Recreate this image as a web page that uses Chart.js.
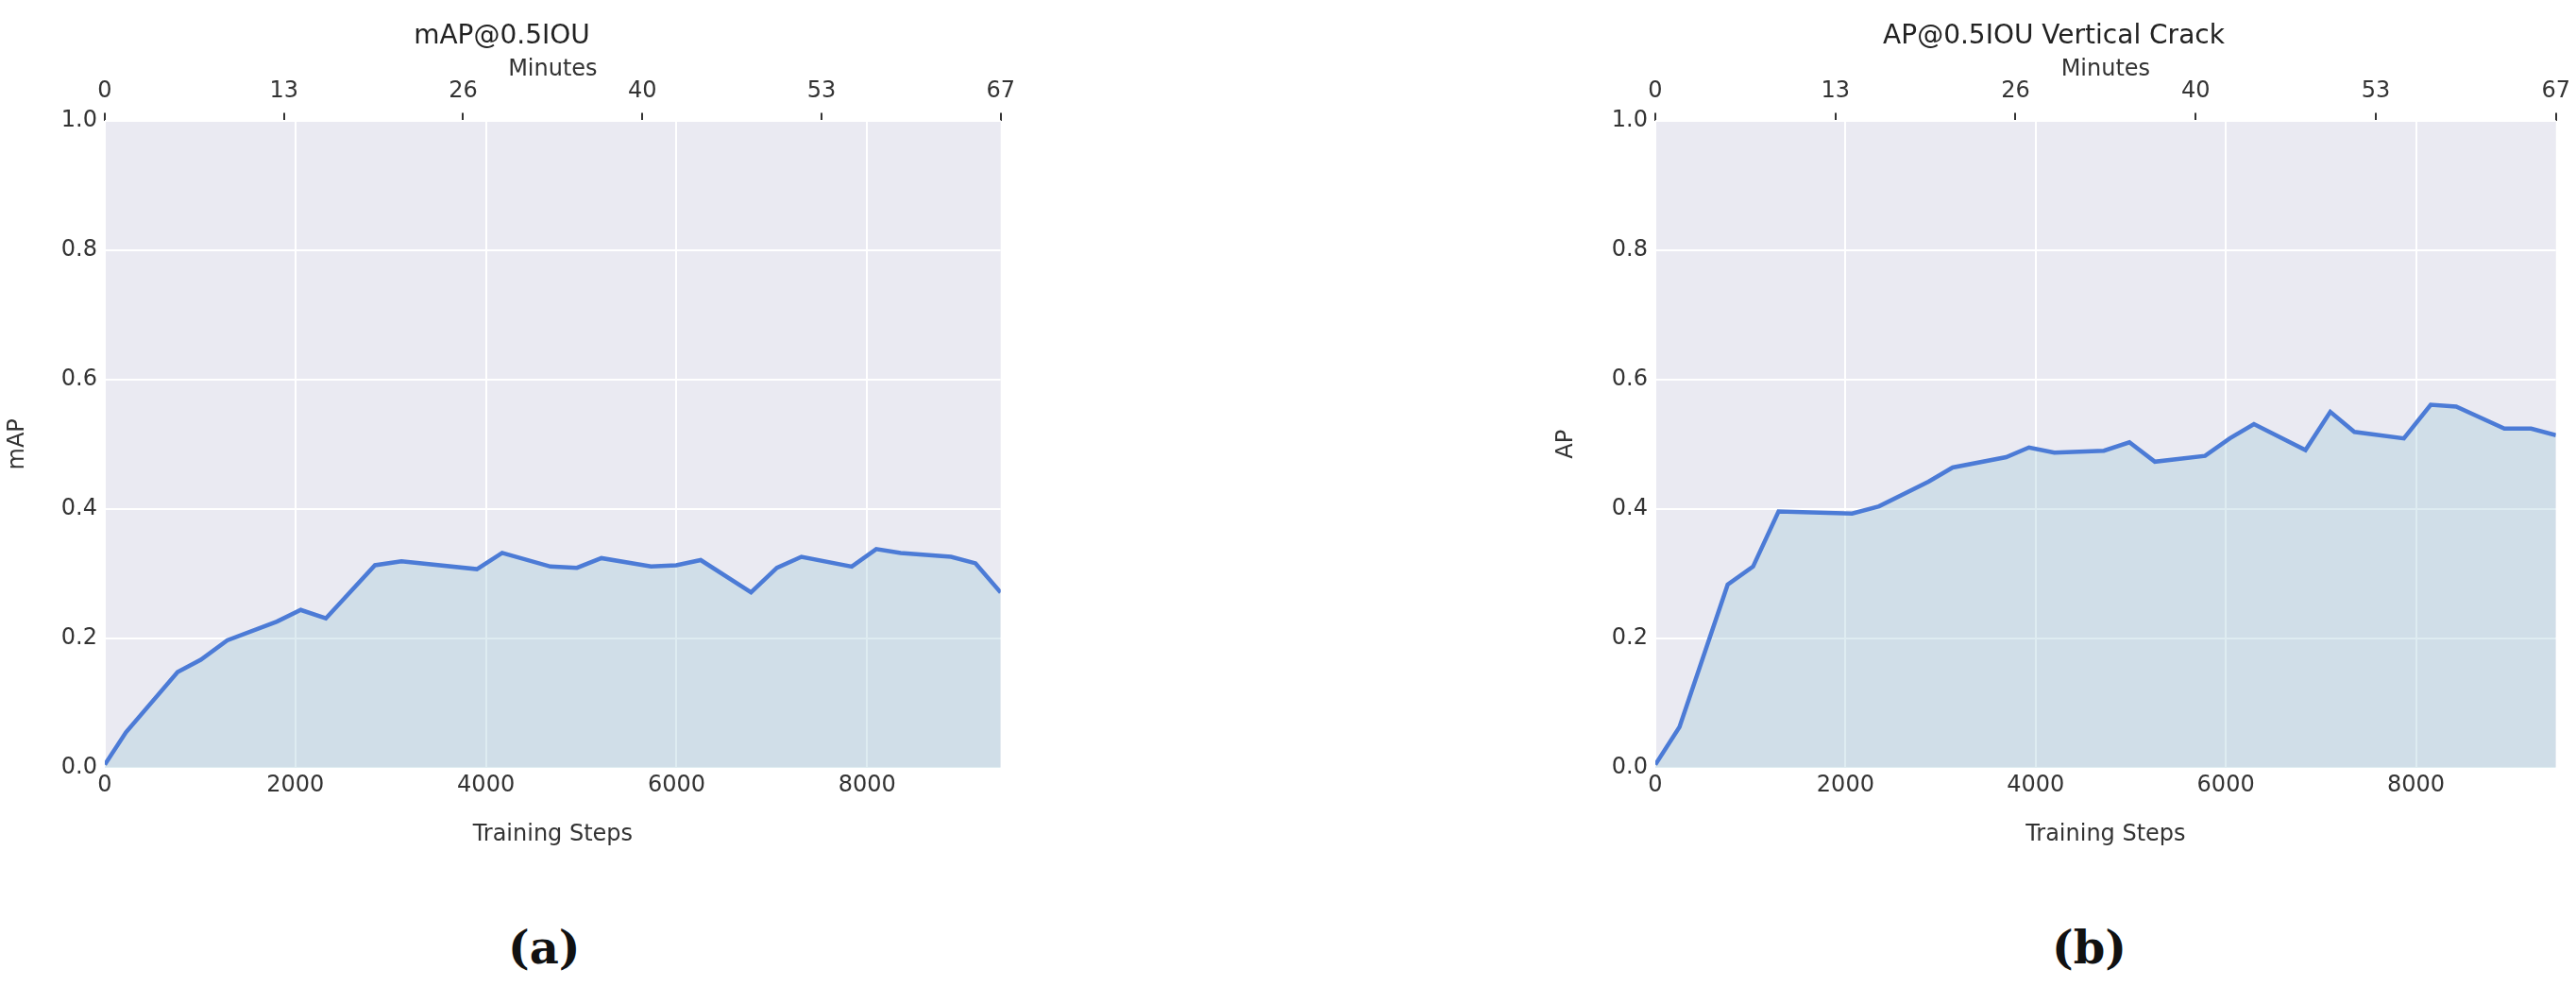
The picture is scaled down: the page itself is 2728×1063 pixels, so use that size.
<!DOCTYPE html>
<html>
<head>
<meta charset="utf-8">
<script src="https://cdn.jsdelivr.net/npm/chart.js@4.4.0/dist/chart.umd.min.js"></script>
<style>
  body { margin: 0; background: #fff; width: 2728px; height: 1063px; position: relative; overflow: hidden; }
  .box { position: absolute; top: 0; height: 900px; }
  .cap { position: absolute; top: 975px; font: bold 48px "DejaVu Serif", "Liberation Serif", serif; color: #111; }
</style>
</head>
<body>
<div class="box" style="left:0;width:1083px"><canvas id="chartA"></canvas></div>
<div class="box" style="left:1640px;width:1090px"><canvas id="chartB"></canvas></div>
<div class="cap" style="left:538px">(a)</div>
<div class="cap" style="left:2173px">(b)</div>
<script>
// mAP@0.5IOU
let stepsA = [0, 222, 764, 1007, 1285, 1806, 2056, 2320, 2835, 3113, 3905, 4170, 4677, 4955, 5212, 5733, 5997, 6254, 6782, 7054, 7311, 7839, 8096, 8353, 8881, 9138, 9402];
let mapA = [0.005, 0.055, 0.148, 0.167, 0.197, 0.226, 0.244, 0.231, 0.313, 0.319, 0.307, 0.332, 0.311, 0.309, 0.324, 0.311, 0.313, 0.321, 0.271, 0.309, 0.326, 0.311, 0.338, 0.332, 0.326, 0.316, 0.271];

// AP@0.5IOU Vertical Crack
let stepsB = [0, 254, 761, 1028, 1296, 2070, 2352, 2873, 3127, 3690, 3930, 4197, 4718, 4986, 5254, 5782, 6042, 6296, 6838, 7099, 7352, 7873, 8155, 8423, 8930, 9211, 9472];
let apB = [0.005, 0.063, 0.283, 0.311, 0.396, 0.393, 0.404, 0.442, 0.464, 0.480, 0.495, 0.487, 0.490, 0.503, 0.473, 0.482, 0.509, 0.531, 0.491, 0.550, 0.519, 0.509, 0.561, 0.558, 0.524, 0.524, 0.514];

let stepTicks = [0, 2000, 4000, 6000, 8000];
let minuteTicks = [0, 13.4, 26.8, 40.2, 53.6, 67];
let maxMinutes = 67;

let font = "DejaVu Sans";
let tickFont = { family: font, size: 24 };

let plotBg = {
    id: 'plotBg',
    beforeDraw(chart) {
        let a = chart.chartArea;
        let ctx = chart.ctx;
        ctx.save();
        ctx.fillStyle = '#eaeaf2';
        ctx.fillRect(a.left, a.top, a.right - a.left, a.bottom - a.top);
        ctx.restore();
    }
};

function makeChart(id, title, yLabel, steps, values, yWidth) {
    let ctx = document.getElementById(id).getContext('2d');
    return new Chart(ctx, {
        type: 'line',
        data: {
            datasets: [{
                data: steps.map((s, i) => ({ x: s, y: values[i] })),
                borderColor: '#4c7bd6',
                backgroundColor: 'rgba(160,200,215,0.35)',
                borderWidth: 4.5,
                fill: 'origin',
                pointRadius: 0,
                tension: 0
            }]
        },
        options: {
            responsive: true,
            maintainAspectRatio: false,
            animation: false,
            layout: { padding: { right: 20, left: 0, top: 0, bottom: 0 } },
            plugins: {
                legend: { display: false },
                tooltip: { enabled: false },
                title: {
                    display: true, text: title, color: '#222',
                    font: { family: font, size: 28, weight: 'normal' },
                    padding: { top: 22, bottom: 4 }
                }
            },
            scales: {
                x: {
                    type: 'linear', min: 0, max: steps[steps.length - 1],
                    afterBuildTicks(s) { s.ticks = stepTicks.map(v => ({ value: v })); },
                    ticks: { color: '#333', font: tickFont, padding: 4, callback: v => String(v) },
                    grid: { color: '#ffffff', lineWidth: 2, tickLength: 0 },
                    border: { display: false },
                    title: { display: true, text: 'Training Steps', color: '#333', font: tickFont, padding: 2 },
                    afterFit(s) { s.height = 87; }
                },
                x2: {
                    type: 'linear', position: 'top', min: 0, max: maxMinutes,
                    afterBuildTicks(s) { s.ticks = minuteTicks.map(v => ({ value: v })); },
                    ticks: { color: '#333', font: tickFont, padding: 8, callback: v => Math.floor(v) },
                    grid: { drawOnChartArea: false, color: '#333', lineWidth: 2, tickLength: 8 },
                    border: { display: false },
                    title: { display: true, text: 'Minutes', color: '#333', font: tickFont, padding: 0 },
                    afterFit(s) { s.height = 68; }
                },
                y: {
                    min: 0, max: 1,
                    ticks: { stepSize: 0.2, color: '#333', font: tickFont, padding: 8, callback: v => v.toFixed(1) },
                    grid: { color: '#ffffff', lineWidth: 2, tickLength: 0 },
                    border: { display: false },
                    title: { display: true, text: yLabel, color: '#333', font: tickFont, padding: 4 },
                    afterFit(s) { s.width = yWidth; }
                }
            }
        },
        plugins: [plotBg]
    });
}

makeChart('chartA', 'mAP@0.5IOU', 'mAP', stepsA, mapA, 111);
makeChart('chartB', 'AP@0.5IOU Vertical Crack', 'AP', stepsB, apB, 113);
</script>
</body>
</html>
